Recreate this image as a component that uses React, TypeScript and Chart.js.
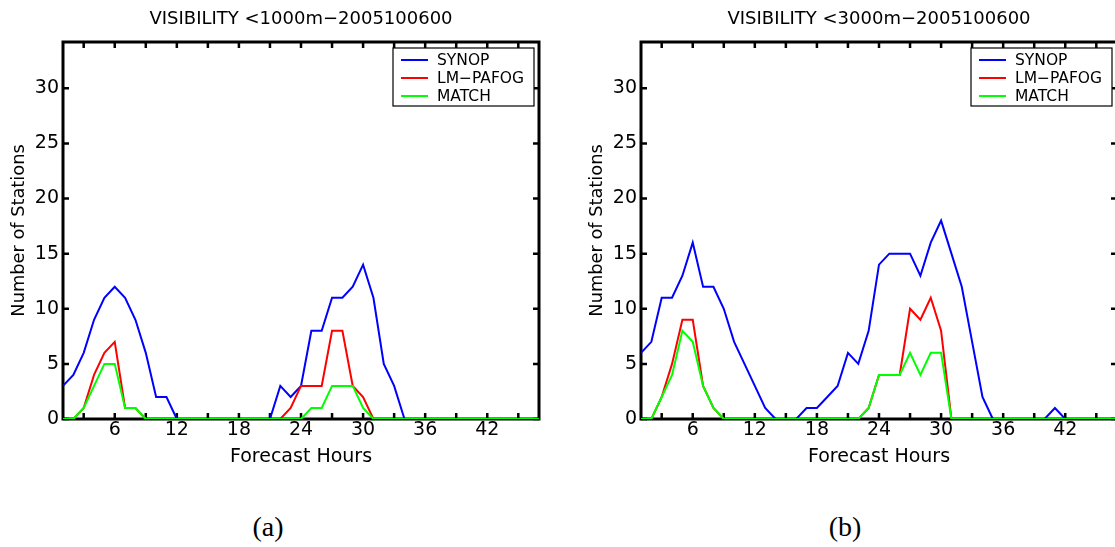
import React, { useEffect, useRef } from "react";
import { Chart, registerables } from "chart.js";

Chart.register(...registerables);

// ---------------- data ----------------
const hours = [
  1, 2, 3, 4, 5, 6, 7, 8, 9, 10, 11, 12, 13, 14, 15, 16, 17, 18, 19, 20, 21, 22, 23, 24,
  25, 26, 27, 28, 29, 30, 31, 32, 33, 34, 35, 36, 37, 38, 39, 40, 41, 42, 43, 44, 45, 46, 47,
];
const xTickValues = [3, 6, 9, 12, 15, 18, 21, 24, 27, 30, 33, 36, 39, 42, 45];
const xTickLabels = [6, 12, 18, 24, 30, 36, 42];
const yTickValues = [0, 5, 10, 15, 20, 25, 30];

const seriesNames = ["SYNOP", "LM\u2212PAFOG", "MATCH"];
const seriesColors = ["#0000ff", "#ff0000", "#00ff00"];

const titleA = "VISIBILITY <1000m\u22122005100600";
const titleB = "VISIBILITY <3000m\u22122005100600";
const xTitle = "Forecast Hours";
const yTitle = "Number of Stations";
const captionA = "(a)";
const captionB = "(b)";

const synopA = [3, 4, 6, 9, 11, 12, 11, 9, 6, 2, 2, 0, 0, 0, 0, 0, 0, 0, 0, 0, 0, 3, 2, 3, 8, 8, 11, 11, 12, 14, 11, 5, 3, 0, 0, 0, 0, 0, 0, 0, 0, 0, 0, 0, 0, 0, 0];
const pafogA = [0, 0, 1, 4, 6, 7, 1, 1, 0, 0, 0, 0, 0, 0, 0, 0, 0, 0, 0, 0, 0, 0, 1, 3, 3, 3, 8, 8, 3, 2, 0, 0, 0, 0, 0, 0, 0, 0, 0, 0, 0, 0, 0, 0, 0, 0, 0];
const matchA = [0, 0, 1, 3, 5, 5, 1, 1, 0, 0, 0, 0, 0, 0, 0, 0, 0, 0, 0, 0, 0, 0, 0, 0, 1, 1, 3, 3, 3, 1, 0, 0, 0, 0, 0, 0, 0, 0, 0, 0, 0, 0, 0, 0, 0, 0, 0];

const synopB = [6, 7, 11, 11, 13, 16, 12, 12, 10, 7, 5, 3, 1, 0, 0, 0, 1, 1, 2, 3, 6, 5, 8, 14, 15, 15, 15, 13, 16, 18, 15, 12, 7, 2, 0, 0, 0, 0, 0, 0, 1, 0, 0, 0, 0, 0, 0];
const pafogB = [0, 0, 2, 5, 9, 9, 3, 1, 0, 0, 0, 0, 0, 0, 0, 0, 0, 0, 0, 0, 0, 0, 1, 4, 4, 4, 10, 9, 11, 8, 0, 0, 0, 0, 0, 0, 0, 0, 0, 0, 0, 0, 0, 0, 0, 0, 0];
const matchB = [0, 0, 2, 4, 8, 7, 3, 1, 0, 0, 0, 0, 0, 0, 0, 0, 0, 0, 0, 0, 0, 0, 1, 4, 4, 4, 6, 4, 6, 6, 0, 0, 0, 0, 0, 0, 0, 0, 0, 0, 0, 0, 0, 0, 0, 0, 0];

// ---------------- styling ----------------
const FONT = "'DejaVu Sans', sans-serif";
const CANVAS_W = 560;
const CANVAS_H = 480;

type PanelProps = {
  title: string;
  series: number[][];
  left: number;
};

function Panel({ title, series, left }: PanelProps) {
  const ref = useRef<HTMLCanvasElement | null>(null);

  useEffect(() => {
    if (!ref.current) return;

    const framePlugin = {
      id: "matlabFrame",
      beforeDatasetsDraw(chart: any) {
        const { ctx, chartArea: a, scales } = chart;
        ctx.save();
        ctx.strokeStyle = "#000";
        ctx.lineWidth = 3;
        ctx.strokeRect(a.left, a.top, a.right - a.left, a.bottom - a.top);
        ctx.lineWidth = 2.5;
        ctx.beginPath();
        for (const v of xTickValues) {
          const x = scales.x.getPixelForValue(v);
          ctx.moveTo(x, a.bottom);
          ctx.lineTo(x, a.bottom - 6);
          ctx.moveTo(x, a.top);
          ctx.lineTo(x, a.top + 6);
        }
        for (const v of yTickValues) {
          const y = scales.y.getPixelForValue(v);
          ctx.moveTo(a.left, y);
          ctx.lineTo(a.left + 6, y);
          ctx.moveTo(a.right, y);
          ctx.lineTo(a.right - 6, y);
        }
        ctx.stroke();
        ctx.restore();
      },
      afterDatasetsDraw(chart: any) {
        const { ctx, chartArea: a } = chart;
        ctx.save();
        // legend box
        const bw = 141;
        const bh = 58;
        const bx = a.right - 5 - bw;
        const by = a.top + 6;
        ctx.fillStyle = "#fff";
        ctx.fillRect(bx, by, bw, bh);
        ctx.strokeStyle = "#000";
        ctx.lineWidth = 1.2;
        ctx.strokeRect(bx, by, bw, bh);
        ctx.font = `15.5px ${FONT}`;
        ctx.textBaseline = "middle";
        ctx.textAlign = "left";
        seriesNames.forEach((name, i) => {
          const y = by + 12 + i * 18;
          ctx.strokeStyle = seriesColors[i];
          ctx.lineWidth = 2;
          ctx.beginPath();
          ctx.moveTo(bx + 8, y);
          ctx.lineTo(bx + 35, y);
          ctx.stroke();
          ctx.fillStyle = "#000";
          ctx.fillText(name, bx + 44, y + 1);
        });
        // title
        ctx.font = `18px ${FONT}`;
        ctx.textAlign = "center";
        ctx.fillStyle = "#000";
        ctx.fillText(title, (a.left + a.right) / 2, 19);
        ctx.restore();
      },
    };

    const datasets = series.map((vals, i) => ({
      label: seriesNames[i],
      data: hours.map((h, k) => ({ x: h, y: vals[k] })),
      borderColor: seriesColors[i],
      backgroundColor: seriesColors[i],
      borderWidth: 2,
      pointRadius: 0,
      tension: 0,
      fill: false,
      order: 3 - i,
    }));

    const chart = new Chart(ref.current, {
      type: "line",
      data: { datasets },
      plugins: [framePlugin],
      options: {
        animation: false,
        responsive: false,
        devicePixelRatio: 1,
        layout: { padding: { left: 0, top: 42, right: CANVAS_W - 539, bottom: 0 } },
        plugins: {
          legend: { display: false },
          title: { display: false },
          tooltip: { enabled: false },
        },
        scales: {
          x: {
            type: "linear",
            min: 1,
            max: 47,
            afterBuildTicks: (s: any) => {
              s.ticks = xTickValues.map((v) => ({ value: v }));
            },
            afterFit: (s: any) => {
              s.height = CANVAS_H - 419;
            },
            grid: { display: false, drawTicks: false, tickLength: 0 },
            border: { display: false },
            ticks: {
              autoSkip: false,
              maxRotation: 0,
              minRotation: 0,
              padding: 0,
              color: "#000",
              font: { size: 19, family: FONT },
              callback: (v: any) => (xTickLabels.includes(Number(v)) ? String(v) : ""),
            },
            title: {
              display: true,
              text: xTitle,
              color: "#000",
              font: { size: 19, family: FONT },
              padding: { top: 0, bottom: 12 },
            },
          },
          y: {
            type: "linear",
            min: 0,
            max: 34.2,
            afterBuildTicks: (s: any) => {
              s.ticks = yTickValues.map((v) => ({ value: v }));
            },
            afterFit: (s: any) => {
              s.width = 63;
            },
            grid: { display: false, drawTicks: false, tickLength: 0 },
            border: { display: false },
            ticks: {
              padding: 4,
              color: "#000",
              font: { size: 19, family: FONT },
            },
            title: {
              display: true,
              text: yTitle,
              color: "#000",
              font: { size: 17.8, family: FONT },
              padding: { top: 9, bottom: 0 },
            },
          },
        },
      } as any,
    });

    return () => chart.destroy();
  }, [title, series]);

  return (
    <canvas
      ref={ref}
      width={CANVAS_W}
      height={CANVAS_H}
      style={{ position: "absolute", left, top: 0, width: CANVAS_W, height: CANVAS_H, display: "block" }}
    />
  );
}

const captionStyle = (centerX: number): React.CSSProperties => ({
  position: "absolute",
  left: centerX - 50,
  top: 511,
  width: 100,
  textAlign: "center",
  fontFamily: "'Liberation Serif', 'DejaVu Serif', serif",
  fontSize: 28,
  lineHeight: "32px",
  color: "#000",
});

const seriesA = [synopA, pafogA, matchA];
const seriesB = [synopB, pafogB, matchB];

export default function App() {
  return (
    <div
      style={{
        position: "absolute",
        left: 0,
        top: 0,
        width: 1115,
        height: 547,
        overflow: "hidden",
        background: "#fff",
      }}
    >
      <Panel title={titleA} series={seriesA} left={0} />
      <Panel title={titleB} series={seriesB} left={578} />
      <div style={captionStyle(268)}>{captionA}</div>
      <div style={captionStyle(845)}>{captionB}</div>
    </div>
  );
}
